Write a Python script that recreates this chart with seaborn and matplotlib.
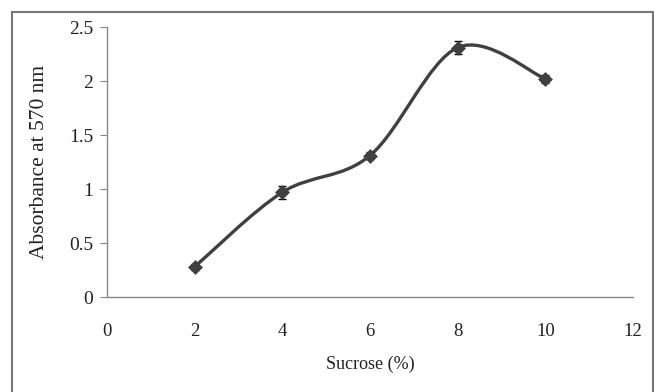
import numpy as np
import matplotlib
matplotlib.use("Agg")
import matplotlib.pyplot as plt
from matplotlib.path import Path
from matplotlib.patches import PathPatch, Rectangle
import seaborn as sns
import pandas as pd

sucrose = [2, 4, 6, 8, 10]
absorbance = [0.28, 0.97, 1.31, 2.31, 2.02]
errors = [0.03, 0.06, 0.03, 0.06, 0.04]
x_ticks = [0, 2, 4, 6, 8, 10, 12]
y_ticks = [0, 0.5, 1, 1.5, 2, 2.5]

sns.set_theme(style="white")
plt.rcParams['font.family'] = ['Liberation Serif', 'DejaVu Serif']

fig = plt.figure(figsize=(6.55, 3.92), dpi=100)
ax = fig.add_axes([0.1634, 0.2423, 0.8030, 0.6888])

df = pd.DataFrame({"x": sucrose, "y": absorbance})

# Excel-style smoothed line (Bezier through data points)
pts = np.column_stack([sucrose, absorbance]).astype(float)
n = len(pts)
verts = [tuple(pts[0])]
codes = [Path.MOVETO]
for i in range(n - 1):
    p0 = pts[i - 1] if i > 0 else pts[i]
    p1 = pts[i]
    p2 = pts[i + 1]
    p3 = pts[i + 2] if i + 2 < n else pts[i + 1]
    c1 = p1 + (p2 - p0) / 6.0
    c2 = p2 - (p3 - p1) / 6.0
    verts += [tuple(c1), tuple(c2), tuple(p2)]
    codes += [Path.CURVE4] * 3
ax.add_patch(PathPatch(Path(verts, codes), facecolor='none',
                       edgecolor='#404040', lw=2.4, zorder=2))

ax.errorbar(sucrose, absorbance, yerr=errors, fmt='none', ecolor='black',
            elinewidth=1.0, capsize=3, capthick=1.0, zorder=3)
sns.scatterplot(data=df, x="x", y="y", marker='D', s=50, color='#404040',
                edgecolor='#404040', linewidth=0.5, ax=ax, zorder=4)

ax.set_xlim(0, 12)
ax.set_ylim(0, 2.5)
ax.set_xticks(x_ticks)
ax.set_xticklabels([str(v) for v in x_ticks])
ax.set_yticks(y_ticks)
ax.set_yticklabels([f"{v:g}" for v in y_ticks])
ax.tick_params(axis='x', labelsize=13.5, colors='#222222')
ax.tick_params(axis='y', labelsize=14, colors='#222222')
ax.tick_params(axis='y', which='major', length=5, width=0.8, color='#888888',
               direction='out', left=True, pad=5)
ax.tick_params(axis='x', length=0, pad=19)
for s in ['top', 'right']:
    ax.spines[s].set_visible(False)
for s in ['left', 'bottom']:
    ax.spines[s].set_color('#888888')
    ax.spines[s].set_linewidth(1.0)
ax.grid(False)
ax.set_xlabel("Sucrose (%)", fontsize=13, color='#222222', labelpad=11)
ax.set_ylabel("Absorbance at 570 nm", fontsize=15.5, color='#222222', labelpad=14)

fig.patches.append(Rectangle((12 / 655, -5 / 392), 641 / 655, 385 / 392,
                             transform=fig.transFigure, fill=False,
                             edgecolor='#777777', lw=1.5))

fig.savefig("out.png", dpi=100)
